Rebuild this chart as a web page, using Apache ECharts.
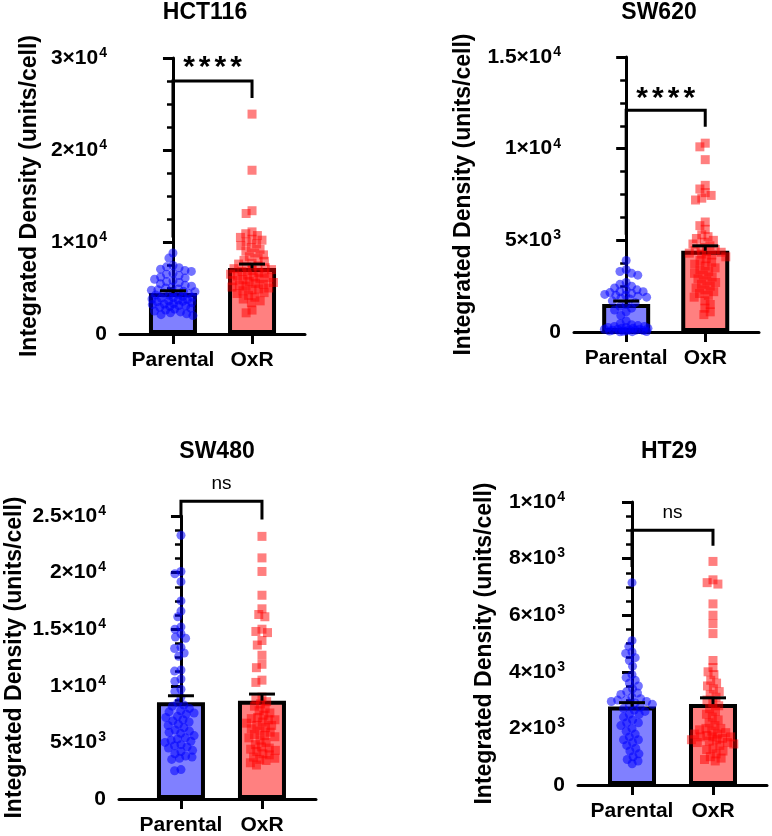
<!DOCTYPE html>
<html><head><meta charset="utf-8">
<script src="https://cdn.jsdelivr.net/npm/echarts@6/dist/echarts.min.js"></script>
<style>html,body{margin:0;padding:0;background:#fff}#c{width:772px;height:836px}</style>
</head><body><div id="c"></div>
<script>
// ---------- DATA ----------
const groups = ['Parental', 'OxR'];
const panelTitles = ['HCT116', 'SW620', 'SW480', 'HT29'];
const yAxisTitle = 'Integrated Density (units/cell)';
const sigLabels = ['****', '****', 'ns', 'ns'];

const hct116Parental = [8800, 8250, 7450, 7300, 7200, 7050, 6900, 6800, 6600, 6500, 6350, 6200, 6100, 5950, 5800, 5700, 5600, 5450, 5300, 5200, 5100, 5000, 4900, 4800, 4750, 4650, 4600, 4500, 4450, 4400, 4300, 4250, 4200, 4100, 4000, 3950, 3900, 3800, 3750, 3700, 3600, 3550, 3500, 3400, 3300, 3250, 3200, 3100, 3050, 3000, 2900, 2800, 2700, 2600, 2500, 2400, 2300, 2200, 2100, 2000];
const hct116OxR = [23900, 17800, 13400, 13100, 11100, 10900, 10700, 10500, 10300, 10200, 10000, 9800, 9600, 9400, 9200, 9000, 8800, 8600, 8400, 8200, 8000, 7900, 7700, 7600, 7400, 7300, 7200, 7100, 7000, 6900, 6800, 6700, 6600, 6500, 6400, 6300, 6200, 6100, 6000, 5900, 5800, 5700, 5600, 5500, 5400, 5300, 5200, 5100, 5000, 4900, 4800, 4700, 4500, 4400, 4200, 4000, 3800, 3600, 3400, 2600, 2300];
const sw620Parental = [3900, 3400, 3300, 3200, 3100, 2700, 2600, 2500, 2400, 2300, 2300, 2200, 2200, 2150, 2100, 2050, 2000, 2000, 1950, 1900, 1850, 1800, 1700, 1600, 1500, 1400, 1300, 1200, 1100, 900, 600, 450, 400, 350, 300, 300, 250, 250, 200, 200, 200, 150, 150, 150, 120, 100, 100, 80, 60, 50, 40, 30, 20, 10];
const sw620OxR = [10300, 10100, 9400, 8000, 7800, 7600, 7450, 7300, 7200, 6000, 5800, 5600, 5300, 5200, 5100, 5000, 4900, 4800, 4700, 4600, 4500, 4450, 4400, 4350, 4300, 4250, 4200, 4100, 4000, 3900, 3800, 3700, 3600, 3500, 3400, 3300, 3200, 3100, 3000, 2900, 2800, 2700, 2600, 2500, 2400, 2300, 2200, 2100, 2000, 1900, 1700, 1500, 1300, 1100, 950];
const sw480Parental = [23300, 20100, 19900, 19200, 17500, 16600, 16100, 15200, 15000, 14600, 14300, 14200, 13400, 13300, 12900, 12600, 11400, 11300, 10600, 10400, 9700, 9500, 9000, 8500, 8300, 8200, 8000, 7800, 7700, 7600, 7500, 7300, 7200, 7000, 6900, 6800, 6600, 6500, 6300, 6100, 6000, 5900, 5800, 5600, 5400, 5300, 5200, 5100, 5000, 4800, 4700, 4600, 4500, 4300, 4200, 4000, 3800, 3700, 3600, 3500, 2600, 2500];
const sw480OxR = [23200, 21300, 20100, 18000, 16800, 16300, 16100, 15000, 14800, 14700, 14000, 13600, 12700, 11900, 11600, 10500, 10300, 9000, 8800, 8600, 8400, 8200, 8000, 7800, 7600, 7400, 7200, 7100, 7000, 7000, 6800, 6700, 6500, 6500, 6300, 6200, 6000, 5900, 5700, 5600, 5500, 5400, 5200, 5000, 4800, 4600, 4500, 4400, 4300, 4200, 4000, 3900, 3700, 3600, 3500, 3400, 3200, 3000];
const ht29Parental = [7150, 5100, 4900, 4700, 4650, 4500, 4400, 4200, 3900, 3800, 3700, 3600, 3500, 3400, 3300, 3250, 3200, 3100, 3050, 3000, 3000, 2950, 2950, 2900, 2850, 2800, 2750, 2700, 2650, 2600, 2500, 2500, 2400, 2300, 2200, 2200, 2100, 2000, 1900, 1800, 1700, 1600, 1600, 1500, 1400, 1300, 1200, 1100, 1000, 900, 850, 750];
const ht29OxR = [7900, 7250, 7150, 7100, 6400, 6000, 5700, 5350, 4400, 4150, 4000, 3900, 3700, 3600, 3500, 3400, 3300, 3200, 3100, 3000, 2900, 2800, 2700, 2600, 2500, 2400, 2300, 2200, 2100, 2000, 2000, 1950, 1900, 1850, 1800, 1800, 1750, 1700, 1700, 1700, 1650, 1600, 1600, 1550, 1500, 1500, 1450, 1400, 1300, 1250, 1200, 1100, 1000, 950, 900, 850];

const hct116Mean = [4450, 7170], hct116Sem = [250, 430];
const sw620Mean = [1530, 4430], sw620Sem = [160, 270];
const sw480Mean = [8540, 8680], sw480Sem = [580, 590];
const ht29Mean = [2770, 2860], ht29Sem = [140, 220];

const yMax = [30000, 15000, 25000, 10000];
const yInterval = [10000, 5000, 5000, 2000];

// ---------- LAYOUT / STYLE ----------
const FONT = 'Liberation Sans';
const layout = [
  {left: 120, top: 58, width: 185, height: 276, xMin: -0.67, xMax: 1.67, nameGap: 79, tx: 205, ty: 1, br: [27500, 10500, 25650], lab: 13},
  {left: 574, top: 57, width: 185, height: 275, xMin: -0.66, xMax: 1.68, nameGap: 99, tx: 659, ty: 1, br: [12100, 5300, 11200], lab: 11},
  {left: 119, top: 516, width: 197, height: 283, xMin: -0.765, xMax: 1.667, nameGap: 93, tx: 217, ty: 440, br: [26300, 24900, 24700], lab: 18},
  {left: 578, top: 502, width: 189, height: 283, xMin: -0.667, xMax: 1.667, nameGap: 82, tx: 669, ty: 440, br: [9000, 7700, 8450], lab: 18}
];
const panelData = [
  [hct116Parental, hct116OxR, hct116Mean, hct116Sem],
  [sw620Parental, sw620OxR, sw620Mean, sw620Sem],
  [sw480Parental, sw480OxR, sw480Mean, sw480Sem],
  [ht29Parental, ht29OxR, ht29Mean, ht29Sem]
];
const BLUE_PT = 'rgba(0,0,255,0.55)', RED_PT = 'rgba(255,0,0,0.5)';
const BLUE_BAR = '#8080ff', RED_BAR = '#ff8080';
const R = 4.5;

// deterministic beeswarm offsets (pixels)
function swarm(values, pxPerUnit, D, maxW) {
  const idx = values.map((v, i) => i).sort((a, b) => values[b] - values[a]);
  const placed = [];
  const offs = new Array(values.length);
  function place(y, d) {
    const near = placed.filter(p => Math.abs(p.y - y) < d);
    const cands = [0];
    near.forEach(p => { const dx = Math.sqrt(d * d - (p.y - y) ** 2); cands.push(p.x + dx, p.x - dx); });
    cands.sort((a, b) => Math.abs(a) - Math.abs(b) || a - b);
    for (const c of cands) {
      if (near.every(p => (p.x - c) ** 2 + (p.y - y) ** 2 >= d * d - 1e-6)) return c;
    }
    return 0;
  }
  for (const i of idx) {
    const y = values[i] * pxPerUnit;
    let d = D, best;
    while (true) {
      best = place(y, d);
      if (Math.abs(best) <= maxW || d < 1.5) break;
      d *= 0.85;
    }
    placed.push({x: best, y});
    offs[i] = best;
  }
  return offs;
}

function fmtY(v) {
  if (v === 0) return '{m|0}';
  const e = Math.floor(Math.log10(v) + 1e-9);
  const m = Math.round(v / Math.pow(10, e) * 10) / 10;
  return '{m|' + m + '×10}{s|' + e + '}';
}

const grids = [], xAxes = [], yAxes = [], series = [], titles = [];
layout.forEach((L, i) => {
  grids.push({left: L.left, top: L.top, width: L.width, height: L.height, containLabel: false, outerBoundsMode: 'none'});
  titles.push({text: panelTitles[i], left: L.tx, top: L.ty, textAlign: 'center', padding: 0,
    textStyle: {fontFamily: FONT, fontSize: 23, fontWeight: 'bold', color: '#000'}});
  xAxes.push({
    gridIndex: i, type: 'value', min: L.xMin, max: L.xMax,
    axisLine: {show: true, onZero: false, lineStyle: {color: '#000', width: 3}},
    axisTick: {show: true, customValues: [0, 1], length: 10, lineStyle: {color: '#000', width: 3}},
    axisLabel: {customValues: [0, 1], formatter: v => groups[Math.round(v)], margin: 16,
      fontFamily: FONT, fontSize: 21, fontWeight: 'bold', color: '#000'},
    splitLine: {show: false}, minorTick: {show: false}
  });
  yAxes.push({
    gridIndex: i, type: 'value', min: 0, max: yMax[i], interval: yInterval[i],
    axisLine: {show: true, lineStyle: {color: '#000', width: 3}},
    axisTick: {show: true, length: 10, lineStyle: {color: '#000', width: 3}},
    minorTick: {show: true, splitNumber: 4, length: 6, lineStyle: {color: '#000', width: 2.5}},
    splitLine: {show: false}, minorSplitLine: {show: false},
    axisLabel: {margin: 13, formatter: fmtY, color: '#000',
      rich: {
        m: {fontFamily: FONT, fontSize: 21, fontWeight: 'bold', color: '#000'},
        s: {fontFamily: FONT, fontSize: 14, fontWeight: 'bold', color: '#000', verticalAlign: 'top', padding: [0, 0, 10, 1]}
      }},
    name: yAxisTitle, nameLocation: 'middle', nameGap: L.nameGap, nameMoveOverlap: false,
    nameTextStyle: {fontFamily: FONT, fontSize: 23, fontWeight: 'bold', color: '#000'}
  });

  const [pv, ov, mean, sem] = panelData[i];
  const ppu = L.height / yMax[i];
  // bars
  series.push({
    type: 'bar', xAxisIndex: i, yAxisIndex: i, barWidth: 48, z: 1, silent: true,
    itemStyle: {borderColor: '#000', borderWidth: 4},
    data: [
      {value: [0, mean[0]], itemStyle: {color: BLUE_BAR}},
      {value: [1, mean[1]], itemStyle: {color: RED_BAR}}
    ]
  });
  // points
  [[pv, 0, 'circle'], [ov, 1, 'square']].forEach(([vals, gx, shape]) => {
    const offs = swarm(vals, ppu, 6.5, 22);
    series.push({
      type: 'custom', xAxisIndex: i, yAxisIndex: i, z: 3, clip: false, silent: true,
      data: vals.map((v, k) => [gx, v, offs[k]]),
      renderItem: (params, api) => {
        const c = api.coord([api.value(0), api.value(1)]);
        const x = c[0] + api.value(2);
        if (shape === 'circle') return {type: 'circle', shape: {cx: x, cy: c[1], r: R}, style: {fill: BLUE_PT}};
        return {type: 'rect', shape: {x: x - R, y: c[1] - R, width: 2 * R, height: 2 * R}, style: {fill: RED_PT}};
      }
    });
  });
  // error bars (mean + SEM)
  series.push({
    type: 'custom', xAxisIndex: i, yAxisIndex: i, z: 5, clip: false, silent: true,
    data: [[0, mean[0], sem[0]], [1, mean[1], sem[1]]],
    renderItem: (params, api) => {
      const idx = params.dataIndex;
      const b = api.coord([idx, mean[idx]]);
      const t = api.coord([idx, mean[idx] + sem[idx]]);
      const st = {stroke: '#000', lineWidth: 3};
      return {type: 'group', children: [
        {type: 'line', shape: {x1: b[0], y1: b[1], x2: t[0], y2: t[1]}, style: st},
        {type: 'line', shape: {x1: t[0] - 13, y1: t[1], x2: t[0] + 13, y2: t[1]}, style: st}
      ]};
    }
  });
  // significance bracket
  series.push({
    type: 'custom', xAxisIndex: i, yAxisIndex: i, z: 5, clip: false, silent: true,
    data: [[0.5, L.br[0]]],
    renderItem: (params, api) => {
      const a = api.coord([0, L.br[1]]);
      const b = api.coord([0, L.br[0]]);
      const c = api.coord([1, L.br[0]]);
      const d = api.coord([1, L.br[2]]);
      const isStar = sigLabels[i] !== 'ns';
      const txt = isStar
        ? {type: 'text', x: (b[0] + c[0]) / 2, y: b[1] - L.lab, style: {
            text: sigLabels[i].split('').map(ch => '{a|' + ch + '}').join(''),
            rich: {a: {fontFamily: FONT, fontSize: 30, fontWeight: 'bold', fill: '#000', padding: [0, 2]}},
            align: 'center', verticalAlign: 'middle', fill: '#000'}}
        : {type: 'text', x: (b[0] + c[0]) / 2, y: b[1] - L.lab, style: {
            text: sigLabels[i], fontFamily: FONT, fontSize: 19, fontWeight: 'normal', fill: '#000',
            align: 'center', verticalAlign: 'middle'}};
      return {type: 'group', children: [
        {type: 'polyline', shape: {points: [a, b, c, d]}, style: {stroke: '#000', lineWidth: 3, fill: null}},
        txt
      ]};
    }
  });
});

const chart = echarts.init(document.getElementById('c'), null, {renderer: 'canvas'});
chart.setOption({
  backgroundColor: '#fff', animation: false,
  title: titles, grid: grids, xAxis: xAxes, yAxis: yAxes, series: series
});
</script></body></html>
